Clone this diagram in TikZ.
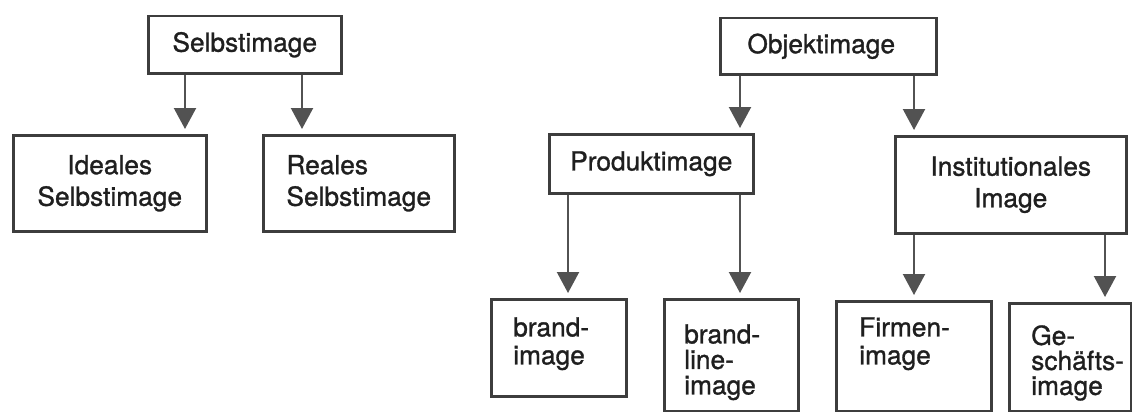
\documentclass[tikz,border=0pt]{standalone}
\usepackage{fontspec}
\setmainfont{TeX Gyre Heros}[FakeBold=1.1]
\usetikzlibrary{arrows.meta}

\definecolor{framegray}{gray}{0.24}
\definecolor{arrowgray}{gray}{0.32}
\definecolor{inkgray}{gray}{0.12}

% width, height, first baseline below top, left padding, line distance, text
\newcommand{\cellbox}[6]{%
  \begin{minipage}[t][#2][t]{#1}%
    \leftskip=#4\relax\baselineskip=#5\relax
    \vspace*{\dimexpr#3-19pt\relax}%
    \rule{0pt}{19pt}#6%
  \end{minipage}}

\begin{document}
\begin{tikzpicture}[x=1pt,y=-1pt,
  every node/.style={font=\fontsize{26.3pt}{31.6pt}\selectfont, text=inkgray},
  box/.style={draw=framegray, line width=2.5pt, inner sep=0pt, anchor=north west},
  cell/.style={draw=framegray, line width=2.5pt, inner sep=0pt, anchor=north west},
  arr/.style={draw=arrowgray, line width=2.2pt, shorten >=5pt,
    -{Triangle[width=22pt,length=21pt]}, arrowgray}]
\useasboundingbox (0,0) rectangle (1132,412);

% self image branch
\node[box, minimum width=193pt, minimum height=57pt] (sel) at (147,15) {Selbstimage};
\node[box, minimum width=193pt, minimum height=96pt, align=center] (ideal) at (12,134) {Ideales\\Selbstimage};
\node[box, minimum width=191pt, minimum height=96pt, align=left] (real) at (262,134) {Reales\\Selbstimage};

% object image branch
\node[box, minimum width=216pt, minimum height=56pt] (obj) at (719,17) {\hspace*{-14pt}Objektimage};
\node[box, minimum width=204pt, minimum height=59pt] (prod) at (548,133) {Produktimage};
\node[box, minimum width=231pt, minimum height=97pt, align=center] (inst) at (894,135) {Institutionales\\Image};

\node[cell] (brand) at (490,298) {\cellbox{135pt}{97pt}{37pt}{22pt}{28pt}{brand-\\image}};
\node[cell] (line) at (663,298) {\cellbox{134pt}{112pt}{44pt}{20pt}{25.5pt}{brand-\\line-\\image}};
\node[cell] (firm) at (835,300) {\cellbox{155pt}{110pt}{35pt}{23pt}{28pt}{Firmen-\\image}};
\node[cell] (gesch) at (1008,302) {\cellbox{122pt}{108pt}{41pt}{22pt}{25pt}{Ge-\\schäfts-\\image}};

% connectors
\coordinate (s1) at ([xshift=38pt]sel.south west);
\coordinate (s2) at ([xshift=155pt]sel.south west);
\coordinate (o1) at ([xshift=21pt]obj.south west);
\coordinate (o2) at ([xshift=195pt]obj.south west);
\coordinate (p1) at ([xshift=20pt]prod.south west);
\coordinate (p2) at ([xshift=192pt]prod.south west);
\coordinate (i1) at ([xshift=20pt]inst.south west);
\coordinate (i2) at ([xshift=211pt]inst.south west);

\draw[arr] (s1) -- (s1 |- ideal.north);
\draw[arr] (s2) -- (s2 |- real.north);
\draw[arr] (o1) -- (o1 |- prod.north);
\draw[arr] (o2) -- (o2 |- inst.north);
\draw[arr] (p1) -- (p1 |- brand.north);
\draw[arr] (p2) -- (p2 |- line.north);
\draw[arr] (i1) -- (i1 |- firm.north);
\draw[arr] (i2) -- (i2 |- gesch.north);
\end{tikzpicture}
\end{document}
